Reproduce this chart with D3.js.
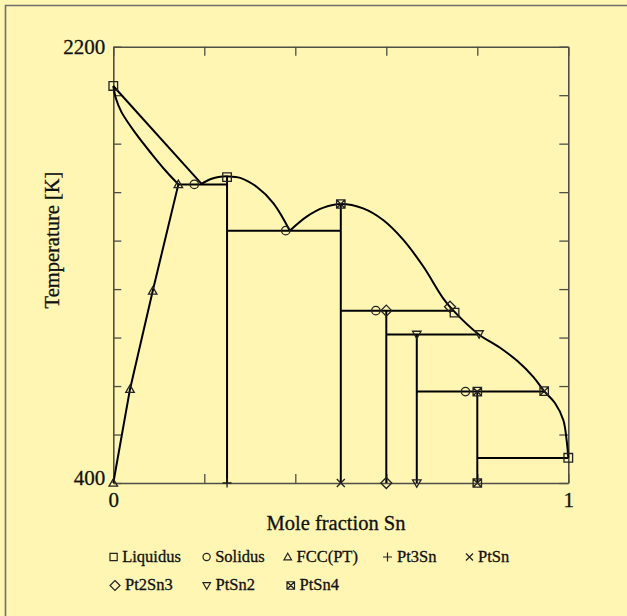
<!DOCTYPE html>
<html><head><meta charset="utf-8">
<script src="https://cdn.jsdelivr.net/npm/d3@7"></script>
<style>html,body{margin:0;padding:0;background:#FFF6B4;} svg{display:block;} svg text{font-family:"Liberation Serif","Times New Roman",serif; stroke:#111; stroke-width:0.3px;}</style>
</head><body><svg id="c" width="627" height="616"></svg>
<script>
// ---------- data ----------
const xTicks = [0, 0.2, 0.4, 0.6, 0.8, 1];
const xTickLabels = ["0", "", "", "", "", "1"];
const yTicks = [400, 600, 800, 1000, 1200, 1400, 1600, 1800, 2000, 2200];
const yTickLabels = ["400", "", "", "", "", "", "", "", "", "2200"];
const xTitle = "Mole fraction Sn";
const yTitle = "Temperature [K]";

// liquidus: straight Pt-side branch
const liqLineX = [0, 0.194];
const liqLineT = [2038, 1634];
// liquidus dome around Pt3Sn
const liqDome1X = [0.194, 0.213, 0.231, 0.253, 0.279, 0.315, 0.352, 0.388];
const liqDome1T = [1634, 1653, 1662, 1665, 1659, 1622, 1554, 1441];
// liquidus from eutectic through PtSn to pure Sn
const liqDome2X = [0.388, 0.425, 0.462, 0.5, 0.549, 0.593, 0.637, 0.681, 0.725, 0.747, 0.802, 0.85, 0.887, 0.923, 0.947, 0.971, 0.989, 0.9963, 1.0];
const liqDome2T = [1441, 1499, 1536, 1551, 1533, 1485, 1404, 1294, 1162, 1112, 1015, 958, 905, 838, 779, 729, 660, 577, 504];
// solidus of FCC(Pt)
const solX = [0, 0.006, 0.018, 0.05, 0.085, 0.117, 0.143];
const solT = [2038, 1985, 1930, 1840, 1756, 1684, 1632];
// FCC solvus
const fccX = [0, 0.0367, 0.0866, 0.143];
const fccT = [400, 787, 1192, 1632];
// invariant horizontal lines
const tieT  = [1632, 1441, 1111, 1013, 777, 503];
const tieX0 = [0.143, 0.25, 0.5, 0.6, 0.667, 0.8];
const tieX1 = [0.25, 0.5, 0.747, 0.802, 0.947, 1.0];
// compound vertical lines
const compX   = [0.25, 0.5, 0.6, 0.667, 0.8];
const compTop = [1662, 1551, 1111, 1013, 777];

// marker series
const seriesNames = ["Liquidus", "Solidus", "FCC(PT)", "Pt3Sn", "PtSn", "Pt2Sn3", "PtSn2", "PtSn4"];
const seriesSymbols = ["square", "circle", "tri", "plus", "cross", "diamond", "tridown", "boxx"];
const liquidusX = [0, 0.25, 0.75, 1.0];
const liquidusT = [2038, 1662, 1103, 504];
const solidusX = [0.178, 0.379, 0.577, 0.774];
const solidusT = [1632, 1441, 1111, 777];
const fccPtX = [0, 0.0367, 0.0866, 0.143];
const fccPtT = [400, 787, 1192, 1632];
const pt3snX = [0.25];
const pt3snT = [400];
const ptsnX = [0.5];
const ptsnT = [400];
const pt2sn3X = [0.6, 0.74, 0.6];
const pt2sn3T = [1111, 1127, 400];
const ptsn2X = [0.667, 0.804, 0.667];
const ptsn2T = [1013, 1015, 400];
const ptsn4X = [0.5, 0.8, 0.947, 0.8];
const ptsn4T = [1551, 777, 779, 400];
const seriesX = [liquidusX, solidusX, fccPtX, pt3snX, ptsnX, pt2sn3X, ptsn2X, ptsn4X];
const seriesT = [liquidusT, solidusT, fccPtT, pt3snT, ptsnT, pt2sn3T, ptsn2T, ptsn4T];

// ---------- layout ----------
const W = 627, H = 616;
const L = 113.3, R = 568.3, T0 = 46.7, B = 483;
const svg = d3.select("#c");
const font = "'Liberation Serif','Times New Roman',serif";
const axisCol = "#4f4f45";

const x = d3.scaleLinear().domain([0, 1]).range([L, R]);
const y = d3.scaleLinear().domain([400, 2200]).range([B, T0]);

// frame
svg.append("rect").attr("x", 0).attr("y", 0).attr("width", W).attr("height", H).attr("fill", "#FFF6B4");
svg.append("path").attr("d", `M5.5,${H} V5.5 H${W}`).attr("fill", "none").attr("stroke", "#6e6e6e").attr("stroke-width", 1.6);

// axes
function styleAxis(g) {
  g.attr("font-family", null);
  g.select(".domain").attr("stroke", axisCol).attr("stroke-width", 1.6);
  g.selectAll(".tick line").attr("stroke", axisCol).attr("stroke-width", 1.3);
  g.selectAll("text").style("font-family", font).attr("font-size", 21).attr("fill", "#111");
}
const gL = svg.append("g").attr("transform", `translate(${L},0)`)
  .call(d3.axisLeft(y).tickValues(yTicks).tickSize(-8).tickSizeOuter(0).tickPadding(8)
    .tickFormat((d, i) => yTickLabels[i]));
styleAxis(gL);
gL.selectAll(".tick text").attr("dy", d => d === 400 ? "0.05em" : "0.3em");
const gR = svg.append("g").attr("transform", `translate(${R},0)`)
  .call(d3.axisRight(y).tickValues(yTicks).tickSize(-9).tickSizeOuter(0).tickFormat(""));
styleAxis(gR);
const gB = svg.append("g").attr("transform", `translate(0,${B})`)
  .call(d3.axisBottom(x).tickValues(xTicks).tickSize(-9).tickSizeOuter(0).tickPadding(9)
    .tickFormat((d, i) => xTickLabels[i]));
styleAxis(gB);
const gT = svg.append("g").attr("transform", `translate(0,${T0})`)
  .call(d3.axisTop(x).tickValues(xTicks).tickSize(-9).tickSizeOuter(0).tickFormat(""));
styleAxis(gT);

// titles
svg.append("text").attr("x", 336).attr("y", 529.5).attr("text-anchor", "middle")
  .style("font-family", font).attr("font-size", 20.5).attr("fill", "#111").text(xTitle);
svg.append("text").attr("transform", "translate(59,240) rotate(-90)").attr("text-anchor", "middle")
  .style("font-family", font).attr("font-size", 20.5).attr("fill", "#111").text(yTitle);

// lines
const plot = svg.append("g");
const zip = (xs, ts) => xs.map((v, i) => [v, ts[i]]);
const straight = d3.line().x(d => x(d[0])).y(d => y(d[1]));
const smooth = d3.line().x(d => x(d[0])).y(d => y(d[1])).curve(d3.curveCatmullRom.alpha(0.5));
const lineStyle = sel => sel.attr("fill", "none").attr("stroke", "#000").attr("stroke-width", 2).attr("stroke-linejoin", "round");

plot.append("path").attr("d", straight(zip(liqLineX, liqLineT))).call(lineStyle);
plot.append("path").attr("d", smooth(zip(liqDome1X, liqDome1T))).call(lineStyle);
plot.append("path").attr("d", smooth(zip(liqDome2X, liqDome2T))).call(lineStyle);
plot.append("path").attr("d", smooth(zip(solX, solT))).call(lineStyle);
plot.append("path").attr("d", straight(zip(fccX, fccT))).call(lineStyle);
tieT.forEach((t, i) => {
  plot.append("path").attr("d", straight([[tieX0[i], t], [tieX1[i], t]])).call(lineStyle);
});
compX.forEach((cx, i) => {
  plot.append("path").attr("d", straight([[cx, compTop[i]], [cx, 400]])).call(lineStyle);
});

// symbols
function sym(type, s) {
  const h = s / 2;
  switch (type) {
    case "square": return `M${-h},${-h}H${h}V${h}H${-h}Z`;
    case "circle": return `M${h},0A${h},${h} 0 1,1 ${-h},0A${h},${h} 0 1,1 ${h},0Z`;
    case "tri": return `M0,${-h}L${h},${h * 0.75}L${-h},${h * 0.75}Z`;
    case "tridown": return `M${-h},${-h * 0.75}L${h},${-h * 0.75}L0,${h}Z`;
    case "plus": return `M${-h},0H${h}M0,${-h}V${h}`;
    case "cross": return `M${-h},${-h}L${h},${h}M${-h},${h}L${h},${-h}`;
    case "diamond": return `M0,${-h}L${h},0L0,${h}L${-h},0Z`;
    case "boxx": return `M${-h},${-h}H${h}V${h}H${-h}ZM${-h},${-h}L${h},${h}M${-h},${h}L${h},${-h}`;
  }
}
const plotSize = {square: 8.6, circle: 8.4, tri: 8.5, tridown: 8.5, plus: 9, cross: 8, diamond: 11, boxx: 8.4};
seriesNames.forEach((n, k) => {
  const type = seriesSymbols[k];
  seriesX[k].forEach((vx, i) => {
    plot.append("path").attr("transform", `translate(${x(vx)},${y(seriesT[k][i])})`)
      .attr("d", sym(type, plotSize[type])).attr("fill", "none").attr("stroke", "#222").attr("stroke-width", 1.3);
  });
});

// legend
const legendCols = [110, 203, 284, 383, 466];
const legendRows = [561.5, 590];
const legSize = {square: 7.2, circle: 7.2, tri: 7.5, tridown: 7.5, plus: 9, cross: 7, diamond: 10, boxx: 7.5};
const leg = svg.append("g");
seriesNames.forEach((n, k) => {
  const col = k % 5, row = Math.floor(k / 5);
  const lx = legendCols[col] + (row === 1 && col === 2 ? 3 : 0);
  const ly = legendRows[row];
  const type = seriesSymbols[k];
  const s = legSize[type];
  leg.append("path").attr("transform", `translate(${lx + s / 2},${ly - 4.5})`)
    .attr("d", sym(type, s)).attr("fill", "none").attr("stroke", "#222").attr("stroke-width", 1.2);
  leg.append("text").attr("x", lx + s + 5).attr("y", ly)
    .style("font-family", font).attr("font-size", 16.5).attr("fill", "#111").text(n);
});
</script></body></html>
